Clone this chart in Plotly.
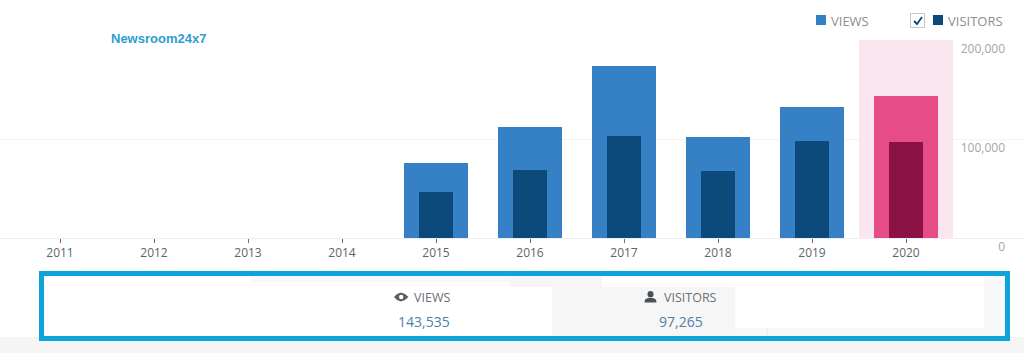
import plotly.graph_objects as go

years = ["2011", "2012", "2013", "2014", "2015", "2016", "2017", "2018", "2019", "2020"]
views = [0, 0, 0, 0, 75500, 112000, 173500, 102000, 132000, 143535]
visitors = [0, 0, 0, 0, 46000, 68500, 103000, 67500, 98000, 97265]
highlight = [None] * 9 + [200000]
y_ticks = [0, 100000, 200000]
y_labels = ["0", "100,000", "200,000"]
total_views = "143,535"
total_visitors = "97,265"

W, H = 1024, 353
BLUE, NAVY, PINK, WINE = "#3680c5", "#0b4a7b", "#e64c85", "#8a1245"
GREY = "#8a8f94"


def px(x):
    return x / W


def py(y):
    return 1 - y / H


def rect(x0, y0, x1, y1, fill, line=None, lw=0):
    return dict(type="rect", xref="paper", yref="paper", x0=px(x0), x1=px(x1), y0=py(y1), y1=py(y0),
                fillcolor=fill, line=dict(color=line or fill, width=lw), layer="above")


def path(points, fill=None, line=None, lw=0, close=True):
    d = "M " + " L ".join(f"{px(a):.5f},{py(b):.5f}" for a, b in points) + (" Z" if close else "")
    return dict(type="path", xref="paper", yref="paper", path=d, fillcolor=fill or "rgba(0,0,0,0)",
                line=dict(color=line or "rgba(0,0,0,0)", width=lw), layer="above")


def text(x, y, s, size=12, color=GREY, anchor="left", family="Open Sans", bold=False):
    return dict(xref="paper", yref="paper", x=px(x), y=py(y), text=f"<b>{s}</b>" if bold else s, showarrow=False,
                xanchor=anchor, yanchor="middle", font=dict(size=size, color=color, family=family))


fig = go.Figure()
fig.add_bar(x=years, y=highlight, width=1.0, marker=dict(color="#f9e6ee", line_width=0), hoverinfo="skip")
fig.add_bar(x=years, y=views, width=0.68, marker=dict(color=[BLUE] * 9 + [PINK], line_width=0), name="Views")
fig.add_bar(x=years, y=visitors, width=0.36, marker=dict(color=[NAVY] * 9 + [WINE], line_width=0), name="Visitors")

shapes = [
    # lower panel backgrounds
    rect(0, 337, W, H, "#f5f5f6"),
    rect(44, 276, 1005, 337, "#ffffff"),
    rect(251, 276, 602, 282, "#f8f8f9"),
    rect(433, 282, 552, 336, "#ffffff"),
    rect(552, 287, 735, 336, "#f6f6f7"),
    rect(510, 276, 602, 287, "#f6f6f7"),
    rect(735, 328, 1005, 337, "#f8f8f9"),
    rect(984, 276, 1005, 337, "#f9f9fa"),
    rect(766.5, 328, 767.5, 337, "#e8e8ea"),
    # blue frame
    rect(41.5, 273.5, 1007.5, 338.5, "rgba(0,0,0,0)", "#0fa3dc", 5),
    # legend
    rect(816, 15, 826, 25, BLUE),
    rect(910.5, 13.5, 924.5, 27.5, "#ffffff", "#c3c6ca", 1),
    path([(914, 21), (917, 24), (922, 17)], line=NAVY, lw=1.8, close=False),
    rect(933, 15, 943, 25, NAVY),
    # eye icon
    path([(394, 297), (397, 294), (401, 292.5), (405, 294), (408.5, 297), (405, 300), (401, 301.5), (397, 300)],
         fill="#5a5f64"),
    dict(type="circle", xref="paper", yref="paper", x0=px(399), x1=px(403.4), y0=py(299.2), y1=py(294.8),
         fillcolor="#ffffff", line=dict(color="#ffffff", width=0), layer="above"),
    # person icon
    dict(type="circle", xref="paper", yref="paper", x0=px(647.5), x1=px(653.5), y0=py(297.5), y1=py(291),
         fillcolor="#4c5156", line=dict(color="#4c5156", width=0), layer="above"),
    path([(644.5, 302.5), (645, 299.5), (648, 298), (653, 298), (656, 299.5), (656.5, 302.5)], fill="#4c5156"),
]

annotations = [
    text(108.5, 38, "Newsroom24x7", size=13, color="#2f9ecf", family="Liberation Sans", bold=True),
    text(828.5, 21, "VIEWS", size=13),
    text(946, 21, "VISITORS", size=13),
    text(412, 297, "VIEWS", size=12.5, color="#6b7075"),
    text(424, 321, total_views, size=14, color="#4f7ea8", anchor="center"),
    text(661.5, 297, "VISITORS", size=12.5, color="#6b7075"),
    text(681, 321, total_visitors, size=14, color="#4f7ea8", anchor="center"),
]

fig.update_layout(
    width=W, height=H, autosize=False,
    margin=dict(l=0, r=0, t=0, b=0),
    paper_bgcolor="#ffffff", plot_bgcolor="#ffffff",
    barmode="overlay", showlegend=False, bargap=0,
    shapes=shapes, annotations=annotations,
    xaxis=dict(
        type="category", categoryorder="array", categoryarray=years, tickmode="array", tickvals=years, ticktext=years,
        range=[-60 / 94, -60 / 94 + W / 94], domain=[0, 1], anchor="y", automargin=False,
        showgrid=False, showline=True, linecolor="#eeeeee", linewidth=1, zeroline=False,
        ticks="outside", ticklen=4, tickcolor="#6a6f74", tickwidth=1,
        tickfont=dict(family="Open Sans", size=12, color="#5f6468"),
    ),
    yaxis=dict(
        range=[0, 200000], domain=[py(238), py(40)], side="left", anchor="free", position=px(1005), automargin=False,
        tickmode="array", tickvals=y_ticks, ticktext=y_labels,
        ticklabelposition="outside", ticklabelstandoff=0, ticklabelshift=9,
        showgrid=True, gridcolor="#f3f3f3", gridwidth=1, zeroline=False, showline=False, ticks="",
        tickfont=dict(family="Open Sans", size=12, color="#a3a6a9"),
    ),
)

fig.write_html("out.html", post_script="document.body.style.margin='0';document.body.style.overflow='hidden';",
               config=dict(displayModeBar=False))
